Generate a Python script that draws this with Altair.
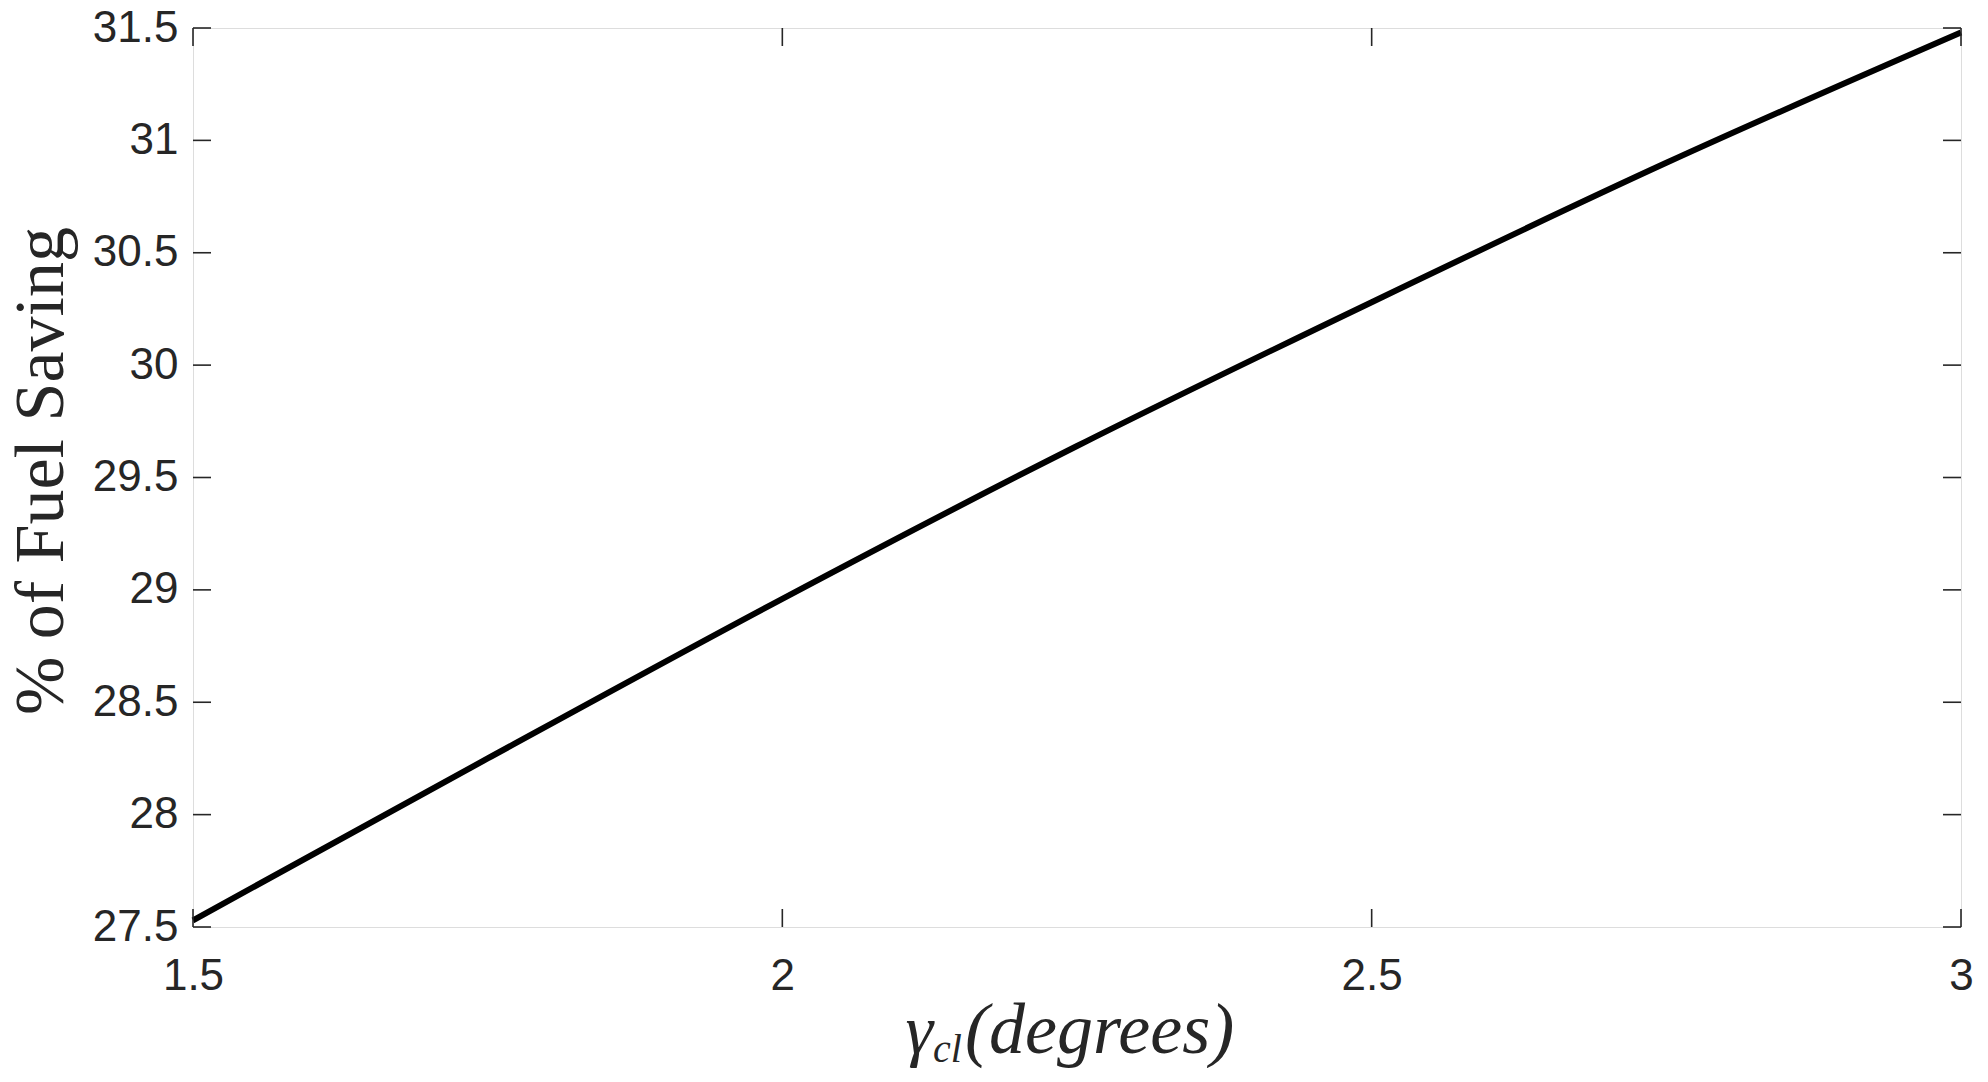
import altair as alt
import pandas as pd

# data
gamma_cl = [1.5, 1.75, 2.0, 2.25, 2.5, 2.75, 3.0]
fuel_saving = [27.53, 28.25, 28.96, 29.64, 30.28, 30.90, 31.48]

x_ticks = [1.5, 2.0, 2.5, 3.0]
y_ticks = [27.5, 28.0, 28.5, 29.0, 29.5, 30.0, 30.5, 31.0, 31.5]

W, H = 1768, 899
INK = "#262626"

df = pd.DataFrame({"g": gamma_cl, "f": fuel_saving})
dx = pd.DataFrame({"g": x_ticks})
dy = pd.DataFrame({"f": y_ticks})

xscale = alt.Scale(domain=[1.5, 3.0], nice=False, zero=False)
yscale = alt.Scale(domain=[27.5, 31.5], nice=False, zero=False)

xaxis = alt.Axis(values=x_ticks, format="~g", domain=False, ticks=False, grid=False,
                 title=None, labelFont="Liberation Sans", labelFontSize=44,
                 labelColor=INK, labelPadding=27, labelFlush=False, labelOverlap=False)
yaxis = alt.Axis(values=y_ticks, format="~g", domain=False, ticks=False, grid=False,
                 title=None, labelFont="Liberation Sans", labelFontSize=44,
                 labelColor=INK, labelPadding=15, labelFlush=False, labelOverlap=False)

line = alt.Chart(df).mark_line(color="black", strokeWidth=6, interpolate="monotone").encode(
    x=alt.X("g:Q", scale=xscale, axis=xaxis),
    y=alt.Y("f:Q", scale=yscale, axis=yaxis),
)

tick_len = 18
tb = alt.Chart(dx).mark_rule(color=INK, strokeWidth=1.6).encode(
    x=alt.X("g:Q", scale=xscale), y=alt.value(H), y2=alt.value(H - tick_len))
tt = alt.Chart(dx).mark_rule(color=INK, strokeWidth=1.6).encode(
    x=alt.X("g:Q", scale=xscale), y=alt.value(0), y2=alt.value(tick_len))
tl = alt.Chart(dy).mark_rule(color=INK, strokeWidth=1.6).encode(
    y=alt.Y("f:Q", scale=yscale), x=alt.value(0), x2=alt.value(tick_len))
tr = alt.Chart(dy).mark_rule(color=INK, strokeWidth=1.6).encode(
    y=alt.Y("f:Q", scale=yscale), x=alt.value(W), x2=alt.value(W - tick_len))

serif = "Liberation Serif"
ytitle = alt.Chart(pd.DataFrame({"t": ["% of Fuel Saving"]})).mark_text(
    font=serif, fontSize=70, color=INK, angle=270, align="center", baseline="alphabetic"
).encode(x=alt.value(-130), y=alt.value(443), text="t:N")

base_y = 1025
g1 = alt.Chart(pd.DataFrame({"t": ["γ"]})).mark_text(
    font=serif, fontSize=70, fontStyle="italic", color=INK, align="right", baseline="alphabetic"
).encode(x=alt.value(740), y=alt.value(base_y), text="t:N")
g2 = alt.Chart(pd.DataFrame({"t": ["cl"]})).mark_text(
    font=serif, fontSize=40, fontStyle="italic", color=INK, align="left", baseline="alphabetic"
).encode(x=alt.value(740), y=alt.value(base_y + 9), text="t:N")
g3 = alt.Chart(pd.DataFrame({"t": ["(degrees)"]})).mark_text(
    font=serif, fontSize=72, fontStyle="italic", color=INK, align="left", baseline="alphabetic"
).encode(x=alt.value(772), y=alt.value(base_y), text="t:N")

chart = alt.layer(line, tb, tt, tl, tr, ytitle, g1, g2, g3).properties(
    width=W, height=H,
    autosize=alt.AutoSizeParams(type="none"),
    padding={"left": 185, "top": 20, "right": 19, "bottom": 147},
).configure_view(stroke=INK, strokeWidth=1.6).configure(background="white")

chart.save("out.html", embed_options={"renderer": "svg", "actions": False})
